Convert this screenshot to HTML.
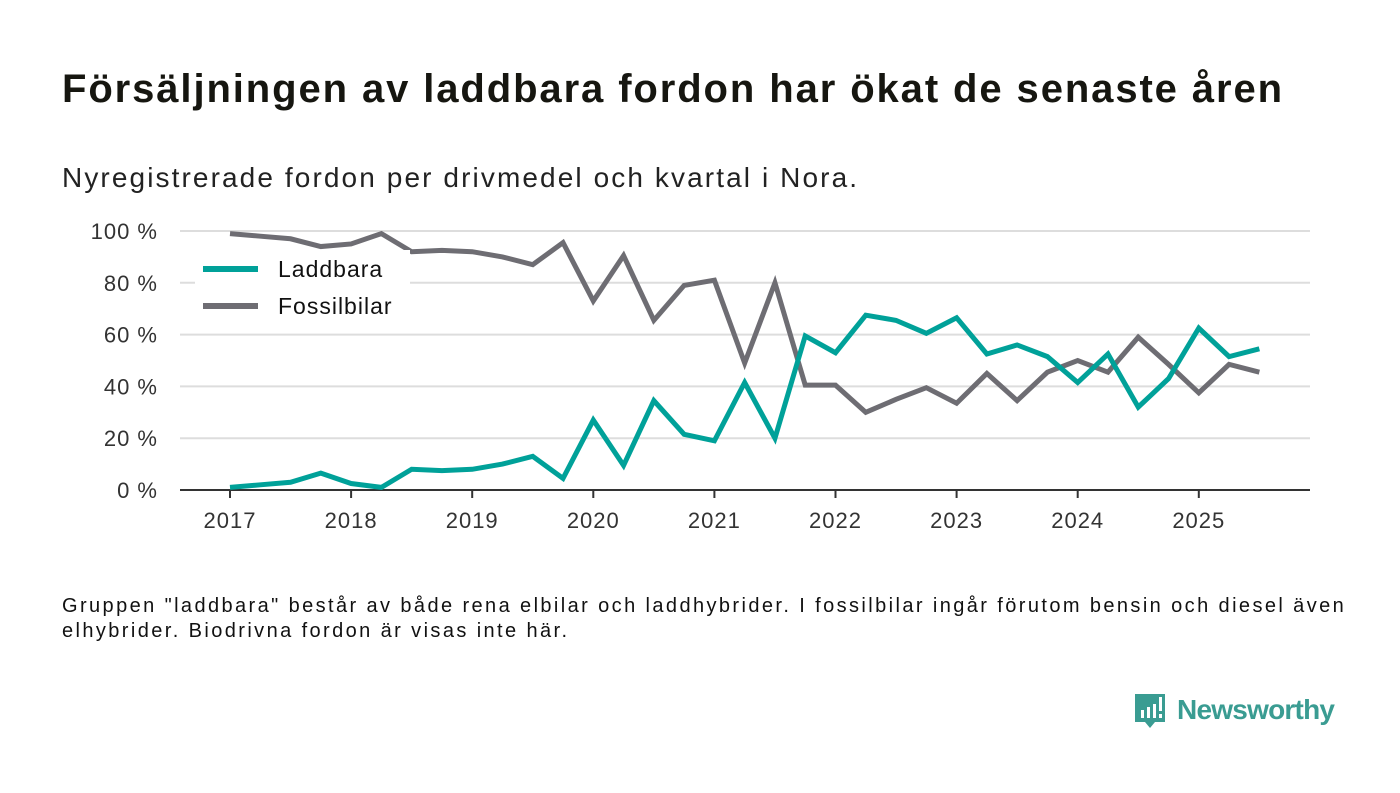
<!DOCTYPE html>
<html><head><meta charset="utf-8"><style>
body{margin:0;background:#fff;font-family:"Liberation Sans",sans-serif;}
#wrap{position:relative;width:1400px;height:793px;overflow:hidden;}
h1{position:absolute;left:62px;top:67px;margin:0;font-size:40px;letter-spacing:1.9px;font-weight:bold;color:#161610;white-space:nowrap;}
.sub{position:absolute;left:62px;top:162px;font-size:28px;letter-spacing:2.1px;color:#222;white-space:nowrap;}
.note{position:absolute;left:62px;top:594px;font-size:20px;letter-spacing:2.4px;line-height:25px;color:#111;width:1330px;white-space:nowrap;}
.logo{position:absolute;left:1133px;top:692px;}
</style></head><body><div id="wrap">
<h1>Försäljningen av laddbara fordon har ökat de senaste åren</h1>
<div class="sub">Nyregistrerade fordon per drivmedel och kvartal i Nora.</div>
<svg id="chart" width="1400" height="793" style="position:absolute;left:0;top:0"></svg>
<div class="note">Gruppen "laddbara" består av både rena elbilar och laddhybrider. I fossilbilar ingår förutom bensin och diesel även<br>elhybrider. Biodrivna fordon är visas inte här.</div>
<div class="logo">
<svg width="210" height="44"><path d="M2 2h30v28h-10l-5 6-5-6H2z" fill="#3a9c92"/><rect x="8" y="18" width="3" height="8" fill="#fff"/><rect x="14" y="15" width="3" height="11" fill="#fff"/><rect x="20" y="12" width="3" height="14" fill="#fff"/><rect x="26" y="5" width="3" height="14" fill="#fff"/><rect x="26" y="22" width="3" height="4" fill="#fff"/>
<text x="44" y="27" font-size="28" font-weight="bold" fill="#3a9c92" font-family="Liberation Sans, sans-serif" textLength="158">Newsworthy</text></svg></div>
</div>
<script>
const years=["2017","2018","2019","2020","2021","2022","2023","2024","2025"];
const yTicks=[0,20,40,60,80,100];
const laddbara=[1,2,3,6.5,2.5,1,8,7.5,8,10,13,4.5,27,9.5,34.5,21.5,19,41.5,20,59.5,53,67.5,65.5,60.5,66.5,52.5,56,51.5,41.5,52.5,32,43,62.5,51.5,54.5];
const fossil=[99,98,97,94,95,99,92,92.5,92,90,87,95.5,73,90.5,65.5,79,81,49,80,40.5,40.5,30,35,39.5,33.5,45,34.5,45.5,50,45.5,59,48.5,37.5,48.5,45.5];
const NS="http://www.w3.org/2000/svg",svg=document.getElementById('chart');
const X0=230,YR=121.1,x=i=>X0+i*YR/4,y=v=>490-v*2.59;
function el(t,a){const e=document.createElementNS(NS,t);for(const k in a)e.setAttribute(k,a[k]);svg.appendChild(e);return e;}
yTicks.forEach(t=>{
 if(t>0){const g=el('line',{x1:180,x2:1310,y1:y(t),y2:y(t),stroke:'#ddd','stroke-width':2});
 
 }
 const tx=el('text',{x:158,y:y(t)+8,'text-anchor':'end','font-size':22,'letter-spacing':1,fill:'#333'});tx.textContent=t+' %';
 
 
});
const ax=el('line',{x1:180,x2:1310,y1:490,y2:490,stroke:'#333','stroke-width':2});


years.forEach((yr,i)=>{const xx=X0+i*YR;
 el('line',{x1:xx,x2:xx,y1:490,y2:498,stroke:'#333','stroke-width':2});
 const t=el('text',{x:xx,y:528,'text-anchor':'middle','font-size':22,'letter-spacing':1,fill:'#333'});t.textContent=yr;
 
 
});
function line(d,c,n){const p=el('polyline',{points:d.map((v,i)=>x(i)+','+y(v)).join(' '),fill:'none',stroke:c,'stroke-width':5,'stroke-linejoin':'miter'});
 
 }
line(fossil,'#6e6d73','fossilbilar-line');
line(laddbara,'#00a199','laddbara-line');
const bg=el('rect',{x:195,y:250,width:215,height:72,fill:'#fff'});


[['Laddbara','#00a199',269],['Fossilbilar','#6e6d73',306]].forEach(([n,c,yy])=>{
 el('line',{x1:203,x2:258,y1:yy,y2:yy,stroke:c,'stroke-width':6});
 const t=el('text',{x:278,y:yy+8,'font-size':23,'letter-spacing':1,fill:'#111'});t.textContent=n;
 
 
});
</script></body></html>
